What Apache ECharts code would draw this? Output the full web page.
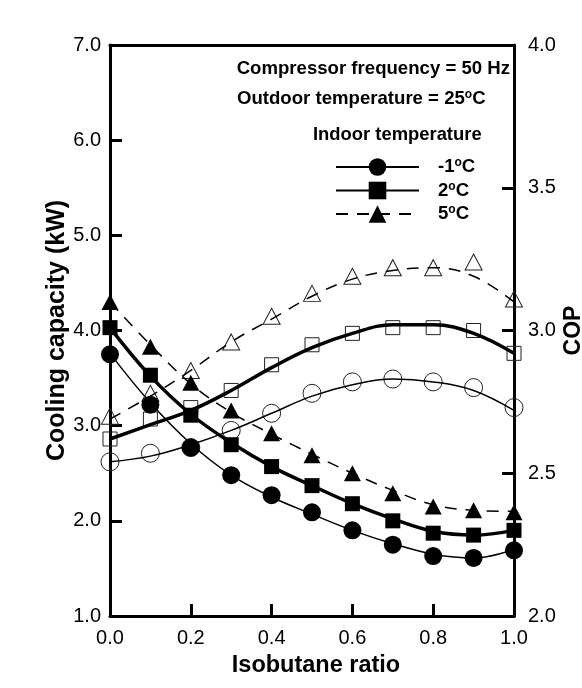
<!DOCTYPE html>
<html>
<head>
<meta charset="utf-8">
<script src="https://cdn.jsdelivr.net/npm/echarts@6/dist/echarts.min.js"></script>
<style>html,body{margin:0;padding:0;background:#fff}#c{width:582px;height:688px}</style>
</head>
<body>
<div id="c"></div>
<script>
// Isobutane ratio (x positions of the measurements)
const ratios = [0.0, 0.1, 0.2, 0.3, 0.4, 0.5, 0.6, 0.7, 0.8, 0.9, 1.0];

// Cooling capacity (kW) measured – filled markers (left axis)
const capMinus1 = [3.75, 3.22, 2.77, 2.48, 2.27, 2.09, 1.90, 1.75, 1.63, 1.61, 1.69];
const capPlus2  = [4.03, 3.53, 3.11, 2.80, 2.57, 2.37, 2.18, 2.00, 1.87, 1.85, 1.90];
const capPlus5  = [4.30, 3.83, 3.45, 3.16, 2.92, 2.69, 2.50, 2.29, 2.15, 2.11, 2.09];

// COP measured – open markers (right axis)
const copMinus1 = [2.54, 2.57, 2.59, 2.65, 2.71, 2.78, 2.82, 2.83, 2.82, 2.80, 2.73];
const copPlus2  = [2.62, 2.69, 2.73, 2.79, 2.88, 2.95, 2.99, 3.01, 3.01, 3.00, 2.92];
const copPlus5  = [2.70, 2.78, 2.86, 2.96, 3.05, 3.13, 3.19, 3.22, 3.22, 3.24, 3.11];

// Fitted curves
const capFitMinus1 = [3.76, 3.24, 2.81, 2.48, 2.25, 2.07, 1.90, 1.76, 1.65, 1.61, 1.70];
const capFitPlus2  = [4.03, 3.52, 3.12, 2.82, 2.57, 2.37, 2.18, 2.02, 1.89, 1.85, 1.90];
const capFitPlus5  = [4.30, 3.85, 3.44, 3.14, 2.91, 2.70, 2.50, 2.32, 2.17, 2.11, 2.10];
const copFitMinus1 = [2.54, 2.56, 2.60, 2.65, 2.71, 2.77, 2.81, 2.83, 2.82, 2.79, 2.72];
const copFitPlus2  = [2.62, 2.67, 2.72, 2.79, 2.87, 2.94, 2.99, 3.02, 3.02, 2.99, 2.92];
const copFitPlus5  = [2.69, 2.77, 2.86, 2.96, 3.04, 3.12, 3.18, 3.21, 3.22, 3.19, 3.10];

const seriesNames = ['-1°C', '2°C', '5°C'];

const pairs = arr => ratios.map((x, i) => [x, arr[i]]);

const FONT = '"Liberation Sans", Arial, sans-serif';
const lineStyles = [
  { color: '#000', width: 1.5, type: 'solid' },
  { color: '#000', width: 3.5, type: 'solid' },
  { color: '#000', width: 1.5, type: [12, 9] }
];
const symbols = ['circle', 'rect', 'triangle'];
const filledSizes = [18, 15, [17, 16]];
const openSizes = [18, 14, [17, 16]];

const capFits = [capFitMinus1, capFitPlus2, capFitPlus5];
const copFits = [copFitMinus1, copFitPlus2, copFitPlus5];
const caps = [capMinus1, capPlus2, capPlus5];
const cops = [copMinus1, copPlus2, copPlus5];

const series = [];
for (let k = 0; k < 3; k++) {
  series.push({
    name: seriesNames[k], type: 'line', xAxisIndex: 0, yAxisIndex: 0,
    data: pairs(capFits[k]), smooth: 0.4, showSymbol: false, symbol: symbols[k],
    symbolSize: filledSizes[k], lineStyle: lineStyles[k], itemStyle: { color: '#000' },
    z: 3, silent: true
  });
  series.push({
    name: seriesNames[k] + ' COP fit', type: 'line', xAxisIndex: 0, yAxisIndex: 1,
    data: pairs(copFits[k]), smooth: 0.4, showSymbol: false, symbol: 'none',
    lineStyle: lineStyles[k], z: 3, silent: true
  });
  series.push({
    name: seriesNames[k] + ' capacity', type: 'scatter', xAxisIndex: 0, yAxisIndex: 0,
    data: pairs(caps[k]), symbol: symbols[k], symbolSize: filledSizes[k],
    itemStyle: { color: '#000', opacity: 1 }, z: 5, silent: true
  });
  series.push({
    name: seriesNames[k] + ' COP', type: 'scatter', xAxisIndex: 0, yAxisIndex: 1,
    data: pairs(cops[k]), symbol: symbols[k], symbolSize: openSizes[k],
    itemStyle: { color: 'rgba(0,0,0,0)', borderColor: '#222', borderWidth: 1, opacity: 1 },
    z: 2, silent: true
  });
}

const sup = t => t.replace('°C', '{s|o}{n|C}');
const richT = {
  n: { fontFamily: FONT, fontSize: 18.6, fontWeight: 'bold', color: '#000', lineHeight: 20 },
  s: { fontFamily: FONT, fontSize: 12, fontWeight: 'bold', color: '#000', verticalAlign: 'top', lineHeight: 12 }
};

const chart = echarts.init(document.getElementById('c'), null, { renderer: 'canvas' });
chart.setOption({
  animation: false,
  backgroundColor: '#fff',
  grid: { left: 110, right: 68, top: 45, bottom: 72, containLabel: false, outerBoundsMode: 'none' },
  xAxis: [
    {
      type: 'value', min: 0, max: 1, interval: 0.2, position: 'bottom',
      name: 'Isobutane ratio', nameLocation: 'middle', nameGap: 38, nameMoveOverlap: false,
      nameTextStyle: { fontFamily: FONT, fontSize: 23.5, fontWeight: 'bold', color: '#000', padding: [0, 0, 0, 8] },
      axisLine: { show: true, onZero: false, lineStyle: { color: '#000', width: 3 } },
      axisTick: { show: true, inside: true, length: 12, lineStyle: { color: '#000', width: 3 } },
      axisLabel: { fontFamily: FONT, fontSize: 20, color: '#000', margin: 12, formatter: v => v.toFixed(1) },
      splitLine: { show: false }
    },
    {
      type: 'value', min: 0, max: 1, position: 'top',
      axisLine: { show: true, onZero: false, lineStyle: { color: '#000', width: 3 } },
      axisTick: { show: false }, axisLabel: { show: false }, splitLine: { show: false }
    }
  ],
  yAxis: [
    {
      type: 'value', min: 1, max: 7, interval: 1, position: 'left',
      name: 'Cooling capacity (kW)', nameLocation: 'middle', nameGap: 40, nameRotate: 90, nameMoveOverlap: false,
      nameTextStyle: { fontFamily: FONT, fontSize: 25, fontWeight: 'bold', color: '#000' },
      axisLine: { show: true, onZero: false, lineStyle: { color: '#000', width: 3 } },
      axisTick: { show: true, inside: true, length: 12, lineStyle: { color: '#000', width: 3 } },
      axisLabel: { fontFamily: FONT, fontSize: 20, color: '#000', margin: 9, formatter: v => v.toFixed(1) },
      splitLine: { show: false }
    },
    {
      type: 'value', min: 2, max: 4, interval: 0.5, position: 'right',
      name: 'COP', nameLocation: 'middle', nameGap: 48, nameRotate: 90, nameMoveOverlap: false,
      nameTextStyle: { fontFamily: FONT, fontSize: 23, fontWeight: 'bold', color: '#000' },
      axisLine: { show: true, onZero: false, lineStyle: { color: '#000', width: 3 } },
      axisTick: { show: true, inside: true, length: 12, lineStyle: { color: '#000', width: 3 } },
      axisLabel: { fontFamily: FONT, fontSize: 20, color: '#000', margin: 14, formatter: v => v.toFixed(1) },
      splitLine: { show: false }
    }
  ],
  legend: {
    data: seriesNames, orient: 'vertical', left: 335, top: 157, padding: 0,
    itemWidth: 83, itemHeight: 22, itemGap: 4,
    formatter: name => sup(name),
    textStyle: { fontFamily: FONT, fontSize: 18.6, fontWeight: 'bold', color: '#000', padding: [0, 0, 0, 14], rich: richT },
    selectedMode: false
  },
  graphic: [
    { type: 'text', right: 72, top: 59, style: { text: 'Compressor frequency = 50 Hz', font: 'bold 18.6px ' + FONT, fill: '#000' } },
    { type: 'text', left: 237, top: 89, style: { text: sup('Outdoor temperature = 25°C').replace(/^([^{]+)/, '{n|$1}'), rich: richT, fill: '#000' } },
    { type: 'text', left: 313, top: 126, style: { text: 'Indoor temperature', font: 'bold 18.4px ' + FONT, fill: '#000' } }
  ],
  series: series
});
</script>
</body>
</html>
